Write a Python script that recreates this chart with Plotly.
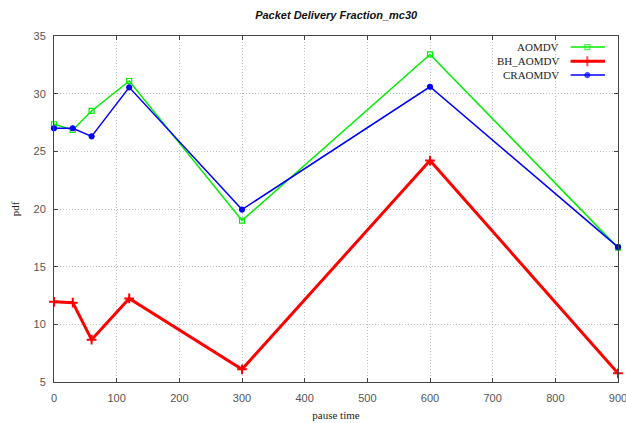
import plotly.graph_objects as go

pause_time = [0, 30, 60, 120, 300, 600, 900]
aomdv = [27.35, 26.85, 28.5, 31.1, 19.0, 33.4, 16.65]
bh_aomdv = [11.95, 11.88, 8.67, 12.25, 6.1, 24.2, 5.75]
craomdv = [27.0, 27.0, 26.3, 30.55, 19.95, 30.6, 16.7]

series_names = ["AOMDV", "BH_AOMDV", "CRAOMDV"]
series_colors = ["#00ee00", "#ff0000", "#0000ff"]
series_widths = [1.5, 3, 1.5]
series_symbols = ["square-open", "cross-thin-open", "circle"]
series_sizes = [5, 7, 5]
series_data = [aomdv, bh_aomdv, craomdv]

fig = go.Figure()
for name, col, w, sym, sz, ys in zip(series_names, series_colors, series_widths,
                                     series_symbols, series_sizes, series_data):
    fig.add_trace(go.Scatter(
        x=pause_time, y=ys, mode="lines+markers", name=name,
        line=dict(color=col, width=w),
        marker=dict(symbol=sym, size=sz, color=col, line=dict(color=col, width=2 if sym.startswith("cross") else 1.2)),
        cliponaxis=False, showlegend=False))

# manual gnuplot-style legend (text left, sample right)
legend_y = [0.968, 0.927, 0.887]
for name, col, w, sym, sz, ly in zip(series_names, series_colors, series_widths,
                                     series_symbols, series_sizes, legend_y):
    fig.add_trace(go.Scatter(
        x=[0.916, 0.9456, 0.977], y=[ly, ly, ly], xaxis="x2", yaxis="y2",
        mode="lines+markers", line=dict(color=col, width=w),
        marker=dict(symbol=sym, size=[0, sz, 0], color=col,
                    line=dict(color=col, width=2 if sym.startswith("cross") else 1.2)),
        showlegend=False, hoverinfo="skip", cliponaxis=False))
    fig.add_annotation(x=0.899, y=ly, xref="paper", yref="paper", text=name,
                       showarrow=False, xanchor="right", yanchor="middle",
                       font=dict(family="Liberation Serif", size=11, color="#222222"))

axis_common = dict(showline=True, linecolor="#444444", linewidth=1, mirror="ticks",
                   ticks="inside", ticklen=4, tickcolor="#444444",
                   showgrid=True, gridcolor="#c0c0c0", griddash="1px,2px", gridwidth=1,
                   zeroline=False, ticklabeloverflow="allow", automargin=False,
                   tickfont=dict(family="Liberation Sans", size=11, color="#555555"))

fig.update_layout(
    width=626, height=423,
    margin=dict(l=54, r=8, t=36, b=41),
    paper_bgcolor="white", plot_bgcolor="white",
    title=dict(text="<b><i>Packet Delivery Fraction_mc30</i></b>", x=0.537, xanchor="center",
               y=0.965, yanchor="middle",
               font=dict(family="Liberation Sans", size=11, color="#111111")),
    xaxis=dict(range=[0, 900], tickvals=[0, 100, 200, 300, 400, 500, 600, 700, 800, 900],
               ticklabelstandoff=6,
               title=dict(text="pause time", standoff=8,
                          font=dict(family="Liberation Serif", size=11, color="#222222")),
               **axis_common),
    yaxis=dict(range=[5, 35], tickvals=[5, 10, 15, 20, 25, 30, 35],
               ticklabelstandoff=5,
               title=dict(text="pdf", standoff=11,
                          font=dict(family="Liberation Serif", size=11, color="#222222")),
               **axis_common),
    xaxis2=dict(overlaying="x", range=[0, 1], visible=False),
    yaxis2=dict(overlaying="y", range=[0, 1], visible=False),
)

fig.write_html("out.html")
